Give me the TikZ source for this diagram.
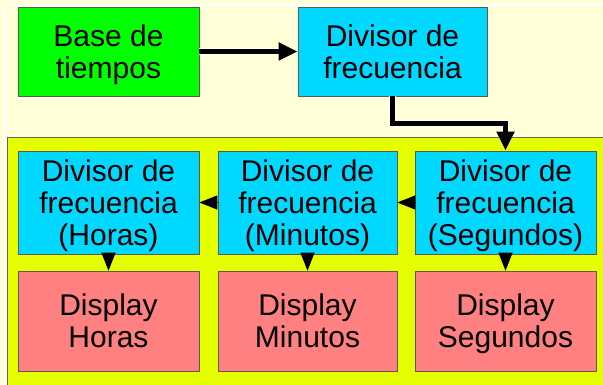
\documentclass[tikz,border=0pt]{standalone}
\usepackage{fontspec}
\setmainfont{Liberation Sans}
\usetikzlibrary{arrows.meta}

\definecolor{crema}{RGB}{255,255,216}
\definecolor{amarillo}{RGB}{230,255,0}
\definecolor{verde}{RGB}{0,255,0}
\definecolor{celeste}{RGB}{0,216,255}
\definecolor{rosa}{RGB}{255,128,128}

\begin{document}
\begin{tikzpicture}[x=1pt, y=-1pt,
    bloque/.style={draw=black!65, line width=0.6pt, align=center, inner sep=0pt,
        minimum width=181pt, font=\fontsize{30}{32}\selectfont, text depth=0pt},
    flecha/.style={line width=5pt, -{Triangle[length=19pt,width=17pt]},
        preaction={draw=white, line width=7pt}},
    punta/.style={line width=1pt, -{Triangle[length=18pt,width=14pt]}}]

    % Fondo
    \useasboundingbox (0,0) rectangle (603,385);
    \fill[crema] (0,0) rectangle (603,385);
    \draw[white, line width=1.2pt] (5,385) -- (5,5) -- (603,5);
    \filldraw[fill=amarillo, draw=black!60, line width=0.8pt] (7,390) -- (7,137) -- (610,137) -- (610,390) -- cycle;

    % Fila superior
    \node[bloque, fill=verde, minimum height=89pt] (base) at (108.5,51.5) {Base de\\tiempos};
    \node[bloque, fill=celeste, minimum width=189pt, minimum height=89pt] (div) at (392.5,51.5) {Divisor de\\frecuencia};

    % Divisores
    \node[bloque, fill=celeste, minimum height=103pt] (divhor) at (108.5,202.5) {Divisor de\\frecuencia\\(Horas)};
    \node[bloque, fill=celeste, minimum width=179pt, minimum height=103pt] (divmin) at (307.5,202.5) {Divisor de\\frecuencia\\(Minutos)};
    \node[bloque, fill=celeste, minimum height=103pt] (divseg) at (505.5,202.5) {Divisor de\\frecuencia\\(Segundos)};

    % Displays
    \node[bloque, fill=rosa, minimum height=100pt] (dishor) at (108.5,321) {Display\\Horas};
    \node[bloque, fill=rosa, minimum width=179pt, minimum height=100pt] (dismin) at (307.5,321) {Display\\Minutos};
    \node[bloque, fill=rosa, minimum height=100pt] (disseg) at (505.5,321) {Display\\Segundos};

    % Conexiones
    \draw[flecha] (base) -- (div);
    \draw[flecha] (div.south) -- ++(0,27) -| (divseg.north);
    \draw[punta] (divseg) -- (divmin);
    \draw[punta] (divmin) -- (divhor);
    \draw[punta] (divhor) -- (dishor);
    \draw[punta] (divmin) -- (dismin);
    \draw[punta] (divseg) -- (disseg);

\end{tikzpicture}
\end{document}
